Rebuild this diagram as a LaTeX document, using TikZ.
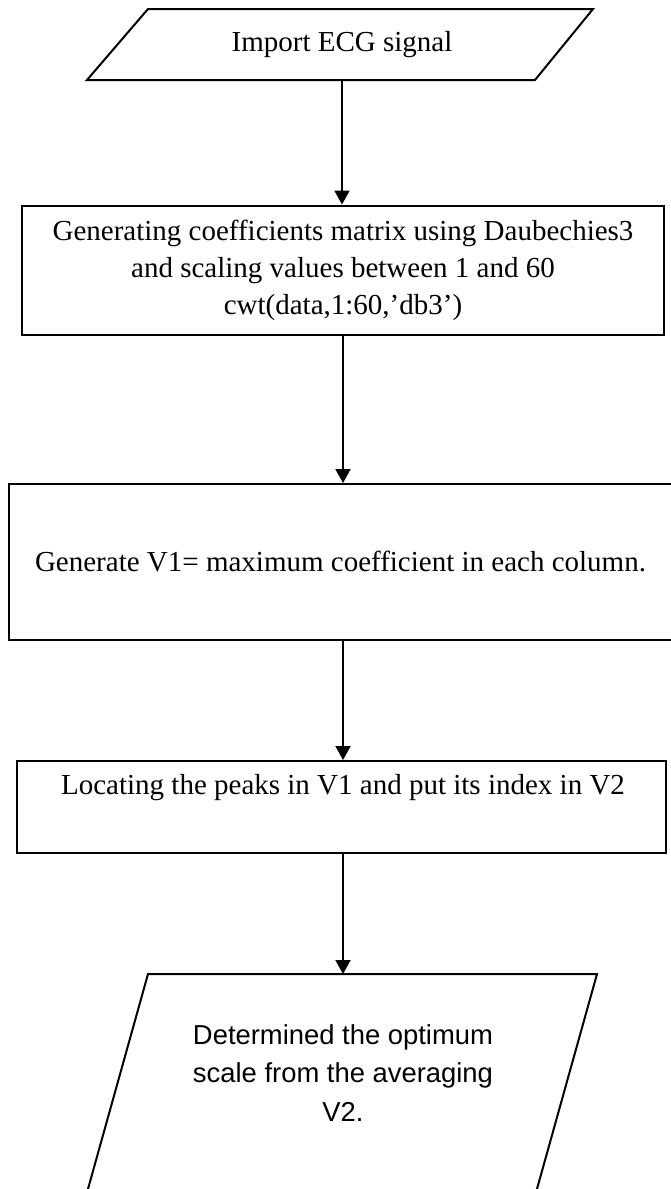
\documentclass[tikz,border=0pt]{standalone}
\usepackage{fontspec}
\setmainfont{Liberation Serif}
\newfontfamily\sansf{Liberation Sans}
\usetikzlibrary{arrows.meta}
\begin{document}
\begin{tikzpicture}[x=0.5pt,y=-0.5pt,
  shapeline/.style={draw,line width=1pt},
  flow/.style={line width=1pt,-{Triangle[width=7.5pt,length=7pt]}},
  proc/.style={draw,line width=1pt,inner sep=0pt,align=center,font=\fontsize{14.5}{18.5}\selectfont},
  txt/.style={inner sep=0pt,align=center,font=\fontsize{14.5}{18.5}\selectfont},
  sanstxt/.style={inner sep=0pt,align=center,font=\sansf\fontsize{13.7}{19.2}\selectfont}]
\useasboundingbox (0,0) rectangle (670,1189);
% input parallelogram
\draw[shapeline] (148,9) -- (593,9) -- (535,80) -- (87,80) -- cycle;
\node[txt,minimum height=35.5pt] (imp) at (342,44.5) {Import ECG signal};
% box 2
\node[proc,minimum width=321pt,minimum height=64.75pt] (gen) at (343,270.25)
  {Generating coefficients matrix using Daubechies3\\and scaling values between 1 and 60\\cwt(data,1:60,’db3’)};
% box 3
\node[proc,minimum width=331.5pt,minimum height=77.75pt] (max) at (340.5,561.75)
  {Generate V1= maximum coefficient in each column.};
% box 4
\node[proc,minimum width=324.5pt,minimum height=46pt] (loc) at (341.5,807) {};
\node[txt] (loctxt) at (343,788) {Locating the peaks in V1 and put its index in V2};
% output parallelogram
\draw[shapeline] (148,974) -- (597,974) -- (530,1214) -- (81,1214) -- cycle;
\coordinate (optTop) at (343,974);
\node[sanstxt] (opt) at (343,1073) {Determined the optimum\\scale from the averaging\\V2.};
% connectors
\draw[flow] (imp.south) -- (imp.south |- gen.north);
\draw[flow] (gen.south) -- (gen.south |- max.north);
\draw[flow] (gen.south |- max.south) -- (gen.south |- loc.north);
\draw[flow] (gen.south |- loc.south) -- (optTop);
\end{tikzpicture}
\end{document}
